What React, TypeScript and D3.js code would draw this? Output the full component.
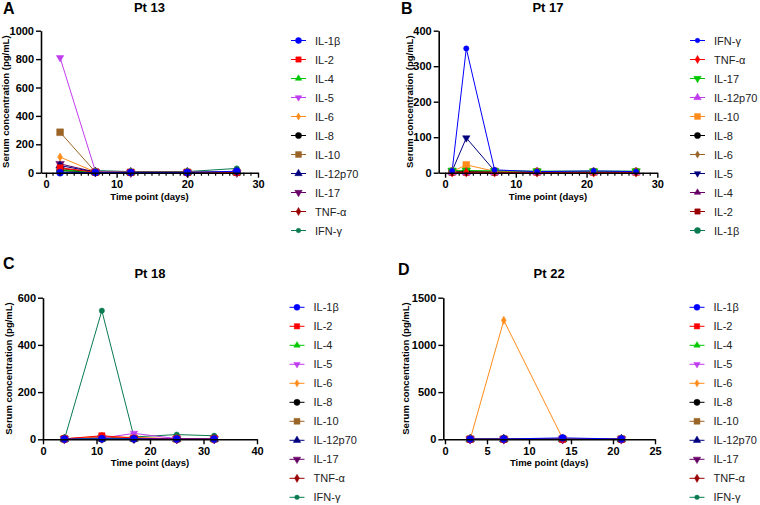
import React, { useEffect, useRef } from 'react';
import * as d3 from 'd3';

// ---- data -------------------------------------------------------------
const cytokinesStd = ['IL-1β', 'IL-2', 'IL-4', 'IL-5', 'IL-6', 'IL-8', 'IL-10', 'IL-12p70', 'IL-17', 'TNF-α', 'IFN-γ'];
const cytokinesPt17 = ['IFN-γ', 'TNF-α', 'IL-17', 'IL-12p70', 'IL-10', 'IL-8', 'IL-6', 'IL-5', 'IL-4', 'IL-2', 'IL-1β'];

const pt13Days = [2, 7, 12, 20, 27];
// rows follow cytokinesStd
const pt13Values = [
  [0, 2, 2, 2, 10],
  [35, 3, 2, 2, 2],
  [20, 4, 2, 2, 2],
  [810, 10, 2, 2, 2],
  [110, 5, 3, 3, 3],
  [15, 3, 2, 2, 2],
  [285, 5, 3, 3, 3],
  [50, 4, 2, 2, 2],
  [62, 5, 2, 2, 2],
  [28, 4, 2, 2, 2],
  [12, 15, 8, 8, 30],
];

const pt17Days = [1, 3, 7, 13, 21, 27];
// rows follow cytokinesPt17
const pt17Values = [
  [5, 350, 8, 3, 5, 3],
  [1, 1, 1, 1, 1, 1],
  [6, 6, 5, 4, 4, 4],
  [1, 1, 1, 1, 1, 1],
  [3, 22, 4, 2, 2, 2],
  [2, 3, 2, 2, 2, 2],
  [2, 6, 3, 2, 2, 2],
  [5, 98, 5, 2, 2, 2],
  [1, 2, 1, 1, 1, 1],
  [1, 1, 1, 1, 1, 1],
  [5, 4, 4, 4, 4, 4],
];

const pt18Days = [4, 11, 17, 25, 32];
const pt18Values = [
  [1, 2, 2, 1, 1],
  [2, 15, 5, 2, 2],
  [1, 3, 2, 1, 1],
  [1, 5, 25, 3, 2],
  [2, 12, 8, 3, 2],
  [1, 2, 2, 1, 1],
  [2, 6, 4, 2, 2],
  [1, 3, 2, 1, 1],
  [1, 4, 3, 1, 1],
  [2, 10, 3, 2, 2],
  [0, 545, 10, 20, 15],
];

const pt22Days = [3, 7, 14, 21];
const pt22Values = [
  [2, 3, 15, 3],
  [1, 1, 1, 1],
  [1, 1, 2, 1],
  [1, 2, 3, 1],
  [0, 1260, 10, 2],
  [1, 2, 3, 1],
  [2, 2, 3, 2],
  [1, 1, 2, 1],
  [1, 1, 2, 1],
  [1, 1, 1, 1],
  [1, 2, 3, 2],
];

// ---- styles -----------------------------------------------------------
const palette = ['#0000ff', '#ff0000', '#00c800', '#c03cf0', '#ff8c1a', '#000000', '#9a6426', '#00007f', '#660066', '#990000', '#0a7a50'];
const shapeOf: Record<string, [d3.SymbolType, number]> = {
  'IL-1β': [d3.symbolCircle, 38],
  'IL-2': [d3.symbolSquare, 38],
  'IL-4': [d3.symbolTriangle, 24],
  'IL-5': [d3.symbolTriangle, 24],
  'IL-6': [d3.symbolDiamond, 20],
  'IL-8': [d3.symbolCircle, 40],
  'IL-10': [d3.symbolSquare, 46],
  'IL-12p70': [d3.symbolTriangle, 32],
  'IL-17': [d3.symbolTriangle, 32],
  'TNF-α': [d3.symbolDiamond, 26],
  'IFN-γ': [d3.symbolCircle, 22],
};
const flipped = new Set(['IL-5', 'IL-17']);

const panels = [
  { letter: 'A', title: 'Pt 13', names: cytokinesStd, days: pt13Days, values: pt13Values,
    xDom: [-0.7, 30], xTicks: [0, 10, 20, 30], minor: true, yMax: 1000, yStep: 200,
    left: 41, right: 258, top: 30.7, bottom: 172.7, leg: [291, 40.5], yLab: 9, letterX: 3, letterY: 14, titleY: 12 },
  { letter: 'B', title: 'Pt 17', names: cytokinesPt17, days: pt17Days, values: pt17Values,
    xDom: [-0.9, 30], xTicks: [0, 10, 20, 30], minor: true, yMax: 400, yStep: 100,
    left: 438.7, right: 657.3, top: 30.7, bottom: 172.7, leg: [690, 40.5], yLab: 413, letterX: 401, letterY: 14, titleY: 12 },
  { letter: 'C', title: 'Pt 18', names: cytokinesStd, days: pt18Days, values: pt18Values,
    xDom: [0, 40], xTicks: [0, 10, 20, 30, 40], minor: false, yMax: 600, yStep: 200,
    left: 43, right: 257, top: 297.7, bottom: 439.3, leg: [289.5, 307.3], yLab: 12, letterX: 3, letterY: 269, titleY: 278 },
  { letter: 'D', title: 'Pt 22', names: cytokinesStd, days: pt22Days, values: pt22Values,
    xDom: [-0.2, 25], xTicks: [0, 5, 10, 15, 20, 25], minor: false, yMax: 1500, yStep: 500,
    left: 443.3, right: 655, top: 297.7, bottom: 439.3, leg: [689.5, 307.3], yLab: 409, letterX: 398, letterY: 275, titleY: 278 },
];

const FONT = 'Liberation Sans, Arial, sans-serif';

const drawMarker = (g: any, name: string, color: string, x: number, y: number, scale = 1) => {
  const [type, size] = shapeOf[name];
  g.append('path')
    .attr('d', d3.symbol().type(type).size(size * scale)())
    .attr('transform', `translate(${x},${y})${flipped.has(name) ? ' rotate(180)' : ''}`)
    .attr('fill', color)
    .attr('stroke', color)
    .attr('stroke-width', 0.5);
};

const App = () => {
  const svgRef = useRef<SVGSVGElement>(null);

  useEffect(() => {
    const svg = d3.select(svgRef.current);
    svg.selectAll('*').remove();

    panels.forEach(p => {
      const g = svg.append('g');
      const x = d3.scaleLinear().domain(p.xDom).range([p.left, p.right]);
      const y = d3.scaleLinear().domain([0, p.yMax]).range([p.bottom, p.top]);

      // panel letter + title
      g.append('text').attr('x', p.letterX).attr('y', p.letterY)
        .attr('font-family', FONT).attr('font-weight', 'bold').attr('font-size', 16).text(p.letter);
      g.append('text').attr('x', (p.left + p.right) / 2).attr('y', p.titleY)
        .attr('text-anchor', 'middle').attr('font-family', FONT).attr('font-weight', 'bold')
        .attr('font-size', 13).text(p.title);

      // series, last first so the first series sits on top
      const line = d3.line<number>().x((_, i) => x(p.days[i])).y(v => y(v));
      for (let s = p.names.length - 1; s >= 0; s--) {
        g.append('path').datum(p.values[s]).attr('d', line)
          .attr('fill', 'none').attr('stroke', palette[s]).attr('stroke-width', 1);
      }
      for (let s = p.names.length - 1; s >= 0; s--) {
        p.values[s].forEach((v, i) => drawMarker(g, p.names[s], palette[s], x(p.days[i]), y(v)));
      }

      // axes
      const yTicks = d3.range(0, p.yMax + 1, p.yStep);
      const yAxis = g.append('g').attr('transform', `translate(${p.left},0)`)
        .call(d3.axisLeft(y).tickValues(yTicks).tickFormat(d3.format('d')).tickSize(5).tickSizeOuter(0).tickPadding(2));
      const xAxis = g.append('g').attr('transform', `translate(0,${p.bottom})`)
        .call(d3.axisBottom(x).tickValues(p.xTicks).tickFormat(d3.format('d')).tickSize(5).tickSizeOuter(0).tickPadding(3));
      if (p.minor) {
        const minorTicks = d3.range(0, p.xDom[1] + 1, 1).filter(t => !p.xTicks.includes(t));
        g.append('g').attr('transform', `translate(0,${p.bottom})`)
          .selectAll('line').data(minorTicks).join('line')
          .attr('x1', d => x(d)).attr('x2', d => x(d)).attr('y1', 0).attr('y2', 3)
          .attr('stroke', '#000').attr('stroke-width', 1.2);
      }
      [yAxis, xAxis].forEach(a => {
        a.select('.domain').attr('stroke', '#000').attr('stroke-width', 1.6);
        a.selectAll('line').attr('stroke', '#000').attr('stroke-width', 1.4);
        a.selectAll('text').attr('font-family', FONT).attr('font-weight', 'bold')
          .attr('font-size', 11).attr('fill', '#000');
      });

      // axis titles
      g.append('text').attr('x', (p.left + p.right) / 2).attr('y', p.bottom + 27)
        .attr('text-anchor', 'middle').attr('font-family', FONT).attr('font-weight', 'bold')
        .attr('font-size', 9.5).text('Time point (days)');
      g.append('text')
        .attr('transform', `translate(${p.yLab},${(p.top + p.bottom) / 2}) rotate(-90)`)
        .attr('text-anchor', 'middle').attr('font-family', FONT).attr('font-weight', 'bold')
        .attr('font-size', 9.5).text('Serum concentration (pg/mL)');

      // legend
      const [lx, ly] = p.leg;
      p.names.forEach((name, s) => {
        const yy = ly + s * 19;
        g.append('line').attr('x1', lx).attr('x2', lx + 15).attr('y1', yy).attr('y2', yy)
          .attr('stroke', palette[s]).attr('stroke-width', 1);
        drawMarker(g, name, palette[s], lx + 7.5, yy, 0.75);
        g.append('text').attr('x', lx + 24).attr('y', yy + 4).attr('font-family', FONT)
          .attr('font-size', 11).attr('fill', '#222').text(name);
      });
    });
  }, []);

  return (
    <svg ref={svgRef} width={760} height={505}
      style={{ position: 'absolute', left: 0, top: 0, display: 'block', background: '#fff' }} />
  );
};

export default App;
